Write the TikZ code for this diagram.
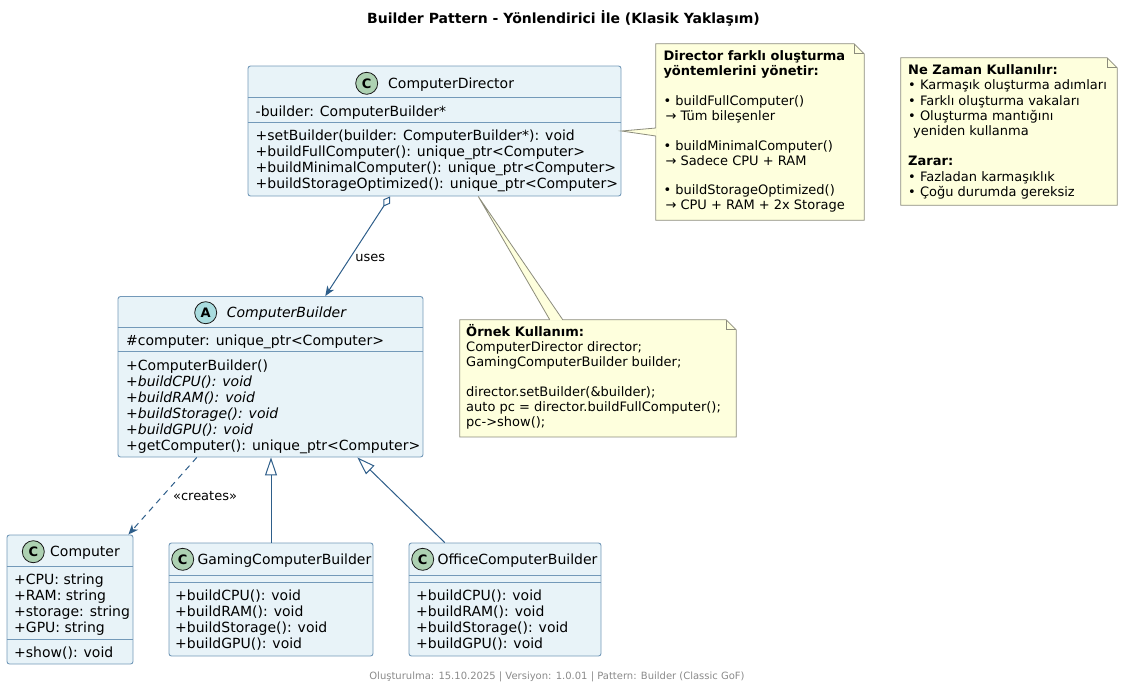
\documentclass[tikz,border=0pt]{standalone}
\usepackage{fontspec}
\setmainfont{DejaVu Sans}
\usetikzlibrary{calc,arrows.meta}
\definecolor{classfill}{HTML}{E8F3F8}
\definecolor{classline}{HTML}{7399B9}
\definecolor{arrowblue}{HTML}{2E5E8A}
\definecolor{notefill}{HTML}{FEFFDD}
\definecolor{noteline}{HTML}{8C8C7C}
\definecolor{spotgreen}{HTML}{ADD1B2}
\definecolor{spotcyan}{HTML}{A9DCDF}
\definecolor{footgrey}{HTML}{8A8A8A}
\tikzset{
  classbox/.style={draw=classline, fill=classfill, rounded corners=2.5pt, line width=0.9pt, inner sep=0pt},
  sepline/.style={draw=classline, line width=0.9pt},
  member/.style={anchor=base west, inner sep=0pt, font=\fontsize{14}{16}\selectfont},
  spot/.style={circle, draw=black!90, line width=0.8pt, minimum size=22pt, inner sep=0pt, font=\fontsize{13}{13}\selectfont\bfseries},
  notearea/.style={inner sep=0pt},
  notepaper/.style={draw=noteline, fill=notefill, line width=0.8pt},
  notetext/.style={anchor=base west, inner sep=0pt, font=\fontsize{13}{15}\selectfont},
  edgelabel/.style={inner sep=0pt, font=\fontsize{13}{15}\selectfont},
  assoc/.style={draw=arrowblue, line width=1pt, {Diamond[open,length=12pt,width=8pt]}-{Stealth[length=10pt,width=8pt,inset=3pt]}},
  depend/.style={draw=arrowblue, line width=1pt, dash pattern=on 6pt off 5pt, -{Stealth[length=10pt,width=8pt,inset=3pt]}},
  inherit/.style={draw=arrowblue, line width=1pt, -{Triangle[open,length=18pt,width=12pt]}}
}
\def\notebody(#1){%
  \draw[notepaper] (#1.north west) -- ($(#1.north east)+(-10,0)$) -- ($(#1.north east)+(0,10)$) -- (#1.south east) -- (#1.south west) -- cycle;
  \draw[draw=noteline, line width=0.8pt] ($(#1.north east)+(-10,0)$) -- ($(#1.north east)+(-10,10)$) -- ($(#1.north east)+(0,10)$);}

\begin{document}
\begin{tikzpicture}[x=1pt, y=-1pt]
		\useasboundingbox (0,0) rectangle (1127,689);
		
		%%%%% TITLE %%%%%
		\node[anchor=base, inner sep=0pt, font=\fontsize{14}{16}\selectfont\bfseries] (title) at (563.5,23) {Builder Pattern - Yönlendirici İle (Klasik Yaklaşım)};
		
		%%%%% DIRECTOR %%%%%
		\node[classbox, minimum width=373pt, minimum height=130pt] (director) at (434.5,131) {};
		\draw[sepline] ($(director.north west)+(0,32.3)$) -- ($(director.north east)+(0,32.3)$);
		\draw[sepline] ($(director.north west)+(0,56.7)$) -- ($(director.north east)+(0,56.7)$);
		\node[spot, fill=spotgreen] (dirSpot) at (366.7,83.3) {C};
		\node[member] (dirName) at (388,88.3) {ComputerDirector};
		\node[member] (dirAttr) at (255.5,116.7) {-builder: ComputerBuilder*};
		\foreach \txt [count=\i from 0] in {+setBuilder(builder: ComputerBuilder*): void, +buildFullComputer(): unique\_ptr<Computer>, +buildMinimalComputer(): unique\_ptr<Computer>, +buildStorageOptimized(): unique\_ptr<Computer>}
			\node[member] (dirOp\i) at (255.5,140+16.3*\i) {\txt};
		
		%%%%% BUILDER %%%%%
		\node[classbox, minimum width=305pt, minimum height=160.5pt] (builder) at (270.5,376.75) {};
		\draw[sepline] ($(builder.north west)+(0,31.8)$) -- ($(builder.north east)+(0,31.8)$);
		\draw[sepline] ($(builder.north west)+(0,55.8)$) -- ($(builder.north east)+(0,55.8)$);
		\node[spot, fill=spotcyan] (bldSpot) at (205.7,312.7) {A};
		\node[member, font=\fontsize{14}{16}\selectfont\itshape] (bldName) at (226.7,317.7) {ComputerBuilder};
		\node[member] (bldAttr) at (126,345.7) {\#computer: unique\_ptr<Computer>};
		\foreach \txt [count=\i from 0] in {+ComputerBuilder(), {\itshape +buildCPU(): void}, {\itshape +buildRAM(): void}, {\itshape +buildStorage(): void}, {\itshape +buildGPU(): void}, +getComputer(): unique\_ptr<Computer>}
			\node[member] (bldOp\i) at (126,370.6+16*\i) {\txt};
		
		%%%%% COMPUTER %%%%%
		\node[classbox, minimum width=126pt, minimum height=129pt] (computer) at (70,599.5) {};
		\draw[sepline] ($(computer.north west)+(0,32)$) -- ($(computer.north east)+(0,32)$);
		\draw[sepline] ($(computer.north west)+(0,105)$) -- ($(computer.north east)+(0,105)$);
		\node[spot, fill=spotgreen] (cmpSpot) at (33.3,551.7) {C};
		\node[member] (cmpName) at (50,556.7) {Computer};
		\foreach \txt [count=\i from 0] in {+CPU: string, +RAM: string, +storage: string, +GPU: string}
			\node[member] (cmpAttr\i) at (14,584+16.3*\i) {\txt};
		\node[member] (cmpOp) at (14,657) {+show(): void};
		
		%%%%% GAMING %%%%%
		\node[classbox, minimum width=204pt, minimum height=113pt] (gaming) at (271,599.5) {};
		\draw[sepline] ($(gaming.north west)+(0,33)$) -- ($(gaming.north east)+(0,33)$);
		\draw[sepline] ($(gaming.north west)+(0,40)$) -- ($(gaming.north east)+(0,40)$);
		\node[spot, fill=spotgreen] (gamSpot) at (182.7,559.3) {C};
		\node[member] (gamName) at (197.3,564.3) {GamingComputerBuilder};
		\foreach \txt [count=\i from 0] in {+buildCPU(): void, +buildRAM(): void, +buildStorage(): void, +buildGPU(): void}
			\node[member] (gamOp\i) at (175,600+16.3*\i) {\txt};
		
		%%%%% OFFICE %%%%%
		\node[classbox, minimum width=192pt, minimum height=113pt] (office) at (505,599.5) {};
		\draw[sepline] ($(office.north west)+(0,33)$) -- ($(office.north east)+(0,33)$);
		\draw[sepline] ($(office.north west)+(0,40)$) -- ($(office.north east)+(0,40)$);
		\node[spot, fill=spotgreen] (offSpot) at (422.7,559.3) {C};
		\node[member] (offName) at (437.3,564.3) {OfficeComputerBuilder};
		\foreach \txt [count=\i from 0] in {+buildCPU(): void, +buildRAM(): void, +buildStorage(): void, +buildGPU(): void}
			\node[member] (offOp\i) at (416,600+16.3*\i) {\txt};
		
		%%%%% NOTES %%%%%
		\node[notearea, minimum width=208pt, minimum height=176pt] (noteDir) at (760,132) {};
		\notebody(noteDir)
		\fill[notefill] (director.east) -- ($(noteDir.west)+(0.7,-4)$) -- ($(noteDir.west)+(0.7,4)$) -- cycle;
		\draw[draw=noteline, line width=0.8pt] ($(noteDir.west)+(0,-4)$) -- (director.east) -- ($(noteDir.west)+(0,4)$);
		\foreach \txt [count=\i from 0] in {{\bfseries Director farklı oluşturma}, {\bfseries yöntemlerini yönetir:}, {}, • buildFullComputer(), \hspace*{2pt}→ Tüm bileşenler, {}, • buildMinimalComputer(), \hspace*{2pt}→ Sadece CPU + RAM, {}, • buildStorageOptimized(), \hspace*{2pt}→ CPU + RAM + 2x Storage}
			\node[notetext] (dirNote\i) at (663.3,60.4+14.95*\i) {\txt};
		
		\node[notearea, minimum width=216pt, minimum height=147pt] (noteWhen) at (1009,131.5) {};
		\notebody(noteWhen)
		\foreach \txt [count=\i from 0] in {{\bfseries Ne Zaman Kullanılır:}, • Karmaşık oluşturma adımları, • Farklı oluşturma vakaları, • Oluşturma mantığını, \hspace*{5pt}yeniden kullanma, {}, {\bfseries Zarar:}, • Fazladan karmaşıklık, • Çoğu durumda gereksiz}
			\node[notetext] (whenNote\i) at (908,74.7+15.2*\i) {\txt};
		
		\node[notearea, minimum width=276pt, minimum height=116.7pt] (noteMain) at (598,378.35) {};
		\notebody(noteMain)
		\fill[notefill] ($(director.south west)!0.617!(director.south east)$) -- ($(noteMain.north west)+(90,0.7)$) -- ($(noteMain.north west)+(103,0.7)$) -- cycle;
		\draw[draw=noteline, line width=0.8pt] ($(noteMain.north west)+(90,0)$) -- ($(director.south west)!0.617!(director.south east)$) -- ($(noteMain.north west)+(103,0)$);
		\foreach \txt [count=\i from 0] in {{\bfseries Örnek Kullanım:}, ComputerDirector director;, GamingComputerBuilder builder;, {}, director.setBuilder(\&builder);, auto pc = director.buildFullComputer();, pc->show();}
			\node[notetext] (mainNote\i) at (466,336.4+14.95*\i) {\txt};
		
		%%%%% LINKS %%%%%
		\draw[assoc] ($(director.south west)!0.381!(director.south east)$) -- node[edgelabel, pos=0.62, anchor=west, xshift=5pt] (usesLbl) {uses} ($(builder.north west)!0.679!(builder.north east)$);
		\draw[depend] ($(builder.south west)!0.259!(builder.south east)$) -- node[edgelabel, pos=0.5, anchor=west, xshift=10pt] (createsLbl) {«creates»} ($(computer.north west)!0.96!(computer.north east)$);
		\draw[inherit] (gaming.north) -- (gaming.north |- builder.south);
		\draw[inherit] ($(office.north west)!0.1875!(office.north east)$) -- ($(builder.south west)!0.784!(builder.south east)$);
		
		%%%%% FOOTER %%%%%
		\node[anchor=base, inner sep=0pt, text=footgrey, font=\fontsize{10}{12}\selectfont] (footer) at (557,679.5) {Oluşturulma: 15.10.2025 | Versiyon: 1.0.01 | Pattern: Builder (Classic GoF)};
		
	\end{tikzpicture}
\end{document}
